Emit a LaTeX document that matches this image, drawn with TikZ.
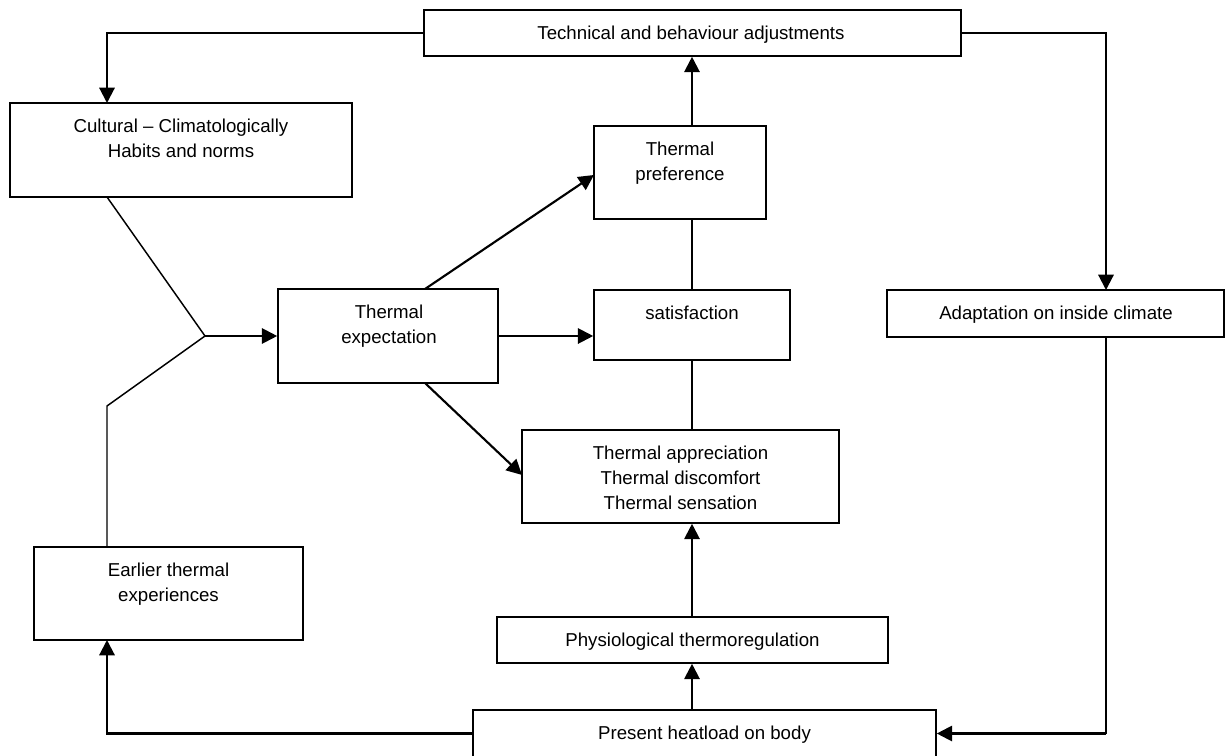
\documentclass[tikz,border=0pt]{standalone}
\usepackage{fontspec}
\setmainfont{Liberation Sans}
\usetikzlibrary{arrows.meta,fit}
\begin{document}
\begin{tikzpicture}[x=0.75pt,y=-0.75pt,
  box/.style={draw, line width=1.2pt, inner sep=0pt},
  txt/.style={font=\fontsize{14}{18.75}\selectfont, align=center, inner sep=0pt, anchor=north},
  arr/.style={line width=1.6pt, -{Triangle[length=11.5pt,width=11.5pt]}},
  thinline/.style={line width=1.1pt}]
\useasboundingbox (0,0) rectangle (1225,756);

% boxes
\node[box, fit={(424,10) (961,56)}] (tech) {};
\node[box, fit={(10,103) (352,197)}] (cult) {};
\node[box, fit={(278,289) (498,383)}] (expect) {};
\node[box, fit={(594,126) (766,219)}] (pref) {};
\node[box, fit={(594,290) (790,360)}] (sat) {};
\node[box, fit={(887,290) (1224,337)}] (adapt) {};
\node[box, fit={(522,430) (839,523)}] (appr) {};
\node[box, fit={(34,547) (303,640)}] (earlier) {};
\node[box, fit={(497,617) (888,663)}] (physio) {};
\node[box, fit={(473,710) (936,757)}] (present) {};

% texts
\node[txt] (techT) at (691,26) {Technical and behaviour adjustments};
\node[txt] (cultT) at (181,119) {Cultural – Climatologically\\Habits and norms};
\node[txt] (expectT) at (389,305) {Thermal\\expectation};
\node[txt] (prefT) at (680,142) {Thermal\\preference};
\node[txt] (satT) at (692,306) {satisfaction};
\node[txt] (adaptT) at (1056,306) {Adaptation on inside climate};
\node[txt] (apprT) at (680.5,446) {Thermal appreciation\\Thermal discomfort\\Thermal sensation};
\node[txt] (earlierT) at (168.5,563) {Earlier thermal\\experiences};
\node[txt] (physioT) at (692.5,633) {Physiological thermoregulation};
\node[txt] (presentT) at (704.5,726) {Present heatload on body};

% helper coordinates on box borders
\coordinate (cultIn) at (107,103);
\coordinate (cultOut) at (107,197);
\coordinate (adaptIn) at (1106,290);
\coordinate (adaptOut) at (1106,337);
\coordinate (k) at (1106,733.5);
\coordinate (earlierIn) at (107,640);
\coordinate (earlierOut) at (107,547);
\coordinate (e1) at (107,406);
\coordinate (j) at (205,336);
\coordinate (xTop) at (425,289);
\coordinate (xBot) at (425,383);
\coordinate (prefIn) at (594,175);
\coordinate (apprIn) at (522,475);
\coordinate (vx) at (692,0);

% connectors
\draw[arr] (tech.west) -| (cultIn);
\draw[arr] (tech.east) -| (adaptIn);
\draw[thinline] (adaptOut) -- (k);
\draw[arr] (k) -- (present.east);
\draw[arr] (present.west) -| (earlierIn);
\draw[arr] (vx |- present.north) -- (vx |- physio.south);
\draw[arr] (vx |- physio.north) -- (vx |- appr.south);
\draw[thinline] (vx |- appr.north) -- (vx |- sat.south);
\draw[thinline] (vx |- sat.north) -- (vx |- pref.south);
\draw[arr] (vx |- pref.north) -- (vx |- tech.south);
\draw[arr] (xTop) -- (prefIn);
\draw[arr] (expect.east) -- (expect.east -| sat.west);
\draw[arr] (xBot) -- (apprIn);
\draw[thinline] (cultOut) -- (j);
\draw[thinline] (earlierOut) -- (e1) -- (j);
\draw[arr] (j) -- (expect.west);
\end{tikzpicture}
\end{document}
